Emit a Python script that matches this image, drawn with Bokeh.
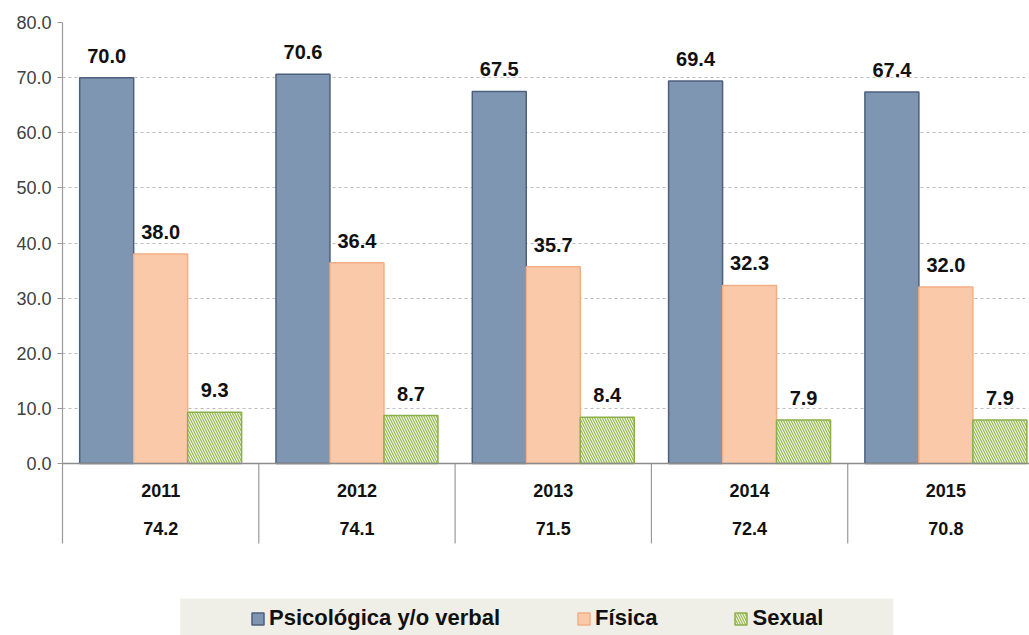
from bokeh.plotting import figure
from bokeh.models import (Range1d, FixedTicker, NumeralTickFormatter, Span,
                          ColumnDataSource, Legend, LegendItem, BoxAnnotation)
from bokeh.core.properties import value
from bokeh.embed import file_html
from bokeh.resources import INLINE

years = ["2011", "2012", "2013", "2014", "2015"]
psicologica = [70.0, 70.6, 67.5, 69.4, 67.4]
fisica = [38.0, 36.4, 35.7, 32.3, 32.0]
sexual = [9.3, 8.7, 8.4, 7.9, 7.9]
totales = ["74.2", "74.1", "71.5", "72.4", "70.8"]
series_names = ["Psicológica y/o verbal", "Física", "Sexual"]
y_ticks = [0, 10, 20, 30, 40, 50, 60, 70, 80]

FONT = "Liberation Sans"

p = figure(width=1029, height=635, output_backend="svg", toolbar_location=None,
           x_range=Range1d(0, 4.926), y_range=Range1d(-31.2, 80),
           x_axis_location=None, min_border_left=62, min_border_right=0,
           min_border_top=22, min_border_bottom=0)
p.outline_line_color = None
p.background_fill_color = "white"

# y axis
p.yaxis.ticker = FixedTicker(ticks=y_ticks)
p.yaxis.formatter = NumeralTickFormatter(format="0.0")
p.yaxis.bounds = (-14.5, 80)
p.yaxis.axis_line_color = "#9a9a9a"
p.yaxis.axis_line_width = 1.2
p.yaxis.major_tick_line_color = "#9a9a9a"
p.yaxis.major_tick_out = 5
p.yaxis.major_tick_in = 0
p.yaxis.minor_tick_line_color = None
p.yaxis.major_label_text_font = FONT
p.yaxis.major_label_text_font_size = "18px"
p.yaxis.major_label_text_color = "#404040"
p.yaxis.major_label_standoff = 6

p.xgrid.grid_line_color = None
p.ygrid.grid_line_color = "#bdbdbd"
p.ygrid.grid_line_dash = "3 3"
p.ygrid.grid_line_width = 1

n = len(years)
centers = [i + 0.5 for i in range(n)]
bw = 0.275
src = ColumnDataSource(dict(
    xp=[c - bw for c in centers], xf=centers, xs=[c + bw for c in centers],
    psico=psicologica, fis=fisica, sex=sexual,
    lp=[f"{v:.1f}" for v in psicologica], lf=[f"{v:.1f}" for v in fisica],
    ls=[f"{v:.1f}" for v in sexual], xc=centers, yr=years, tot=totales,
    zero=[0] * n))

r1 = p.vbar(x="xp", top="psico", bottom=0, width=bw, source=src,
            fill_color="#7F96B2", line_color="#4D5F7C", line_width=1.5)
r2 = p.vbar(x="xf", top="fis", bottom=0, width=bw, source=src,
            fill_color="#F9C9AA", line_color="#F4AE85", line_width=1.5)
r3 = p.vbar(x="xs", top="sex", bottom=0, width=bw, source=src,
            fill_color="#9BBB59", line_color="#8AB04A", line_width=1.5,
            hatch_pattern="left_diagonal_line", hatch_color="white",
            hatch_weight=1, hatch_scale=5)

# x axis line at zero
p.add_layout(Span(location=0, dimension="width", line_color="#8c8c8c",
                  line_width=1.5))

# separators in the category table
p.segment(x0=[1, 2, 3, 4], y0=[0] * 4, x1=[1, 2, 3, 4], y1=[-14.5] * 4,
          line_color="#9a9a9a", line_width=1.2)

# value labels
for xcol, ycol, lcol in (("xp", "psico", "lp"), ("xf", "fis", "lf"), ("xs", "sex", "ls")):
    p.text(x=xcol, y=ycol, text=lcol, source=src, text_align="center",
           text_baseline="middle", y_offset=-22,
           text_font=value(FONT), text_font_style="bold",
           text_font_size="20px", text_color="#111111")

# category labels and totals
p.text(x="xc", y="zero", text="yr", source=src, text_align="center",
       text_baseline="middle", y_offset=27, text_font=value(FONT),
       text_font_style="bold", text_font_size="18px", text_color="#111111")
p.text(x="xc", y="zero", text="tot", source=src, text_align="center",
       text_baseline="middle", y_offset=65, text_font=value(FONT),
       text_font_style="bold", text_font_size="18px", text_color="#111111")

# legend background
p.add_layout(BoxAnnotation(left=0.6, right=4.232, top=-24.5, bottom=-31.2,
                           fill_color="#EFEFE7", fill_alpha=1, line_color=None,
                           level="annotation"))

legend = Legend(items=[LegendItem(label=series_names[0], renderers=[r1]),
                       LegendItem(label=series_names[1], renderers=[r2]),
                       LegendItem(label=series_names[2], renderers=[r3])],
                orientation="horizontal", location=(188, 4),
                background_fill_alpha=0, border_line_color=None,
                padding=4, margin=0, spacing=76, label_standoff=4,
                glyph_width=15, glyph_height=15,
                label_text_font=FONT, label_text_font_style="bold",
                label_text_font_size="22px", label_text_color="#111111")
p.add_layout(legend, "center")

open("out.html", "w").write(file_html(p, INLINE))
